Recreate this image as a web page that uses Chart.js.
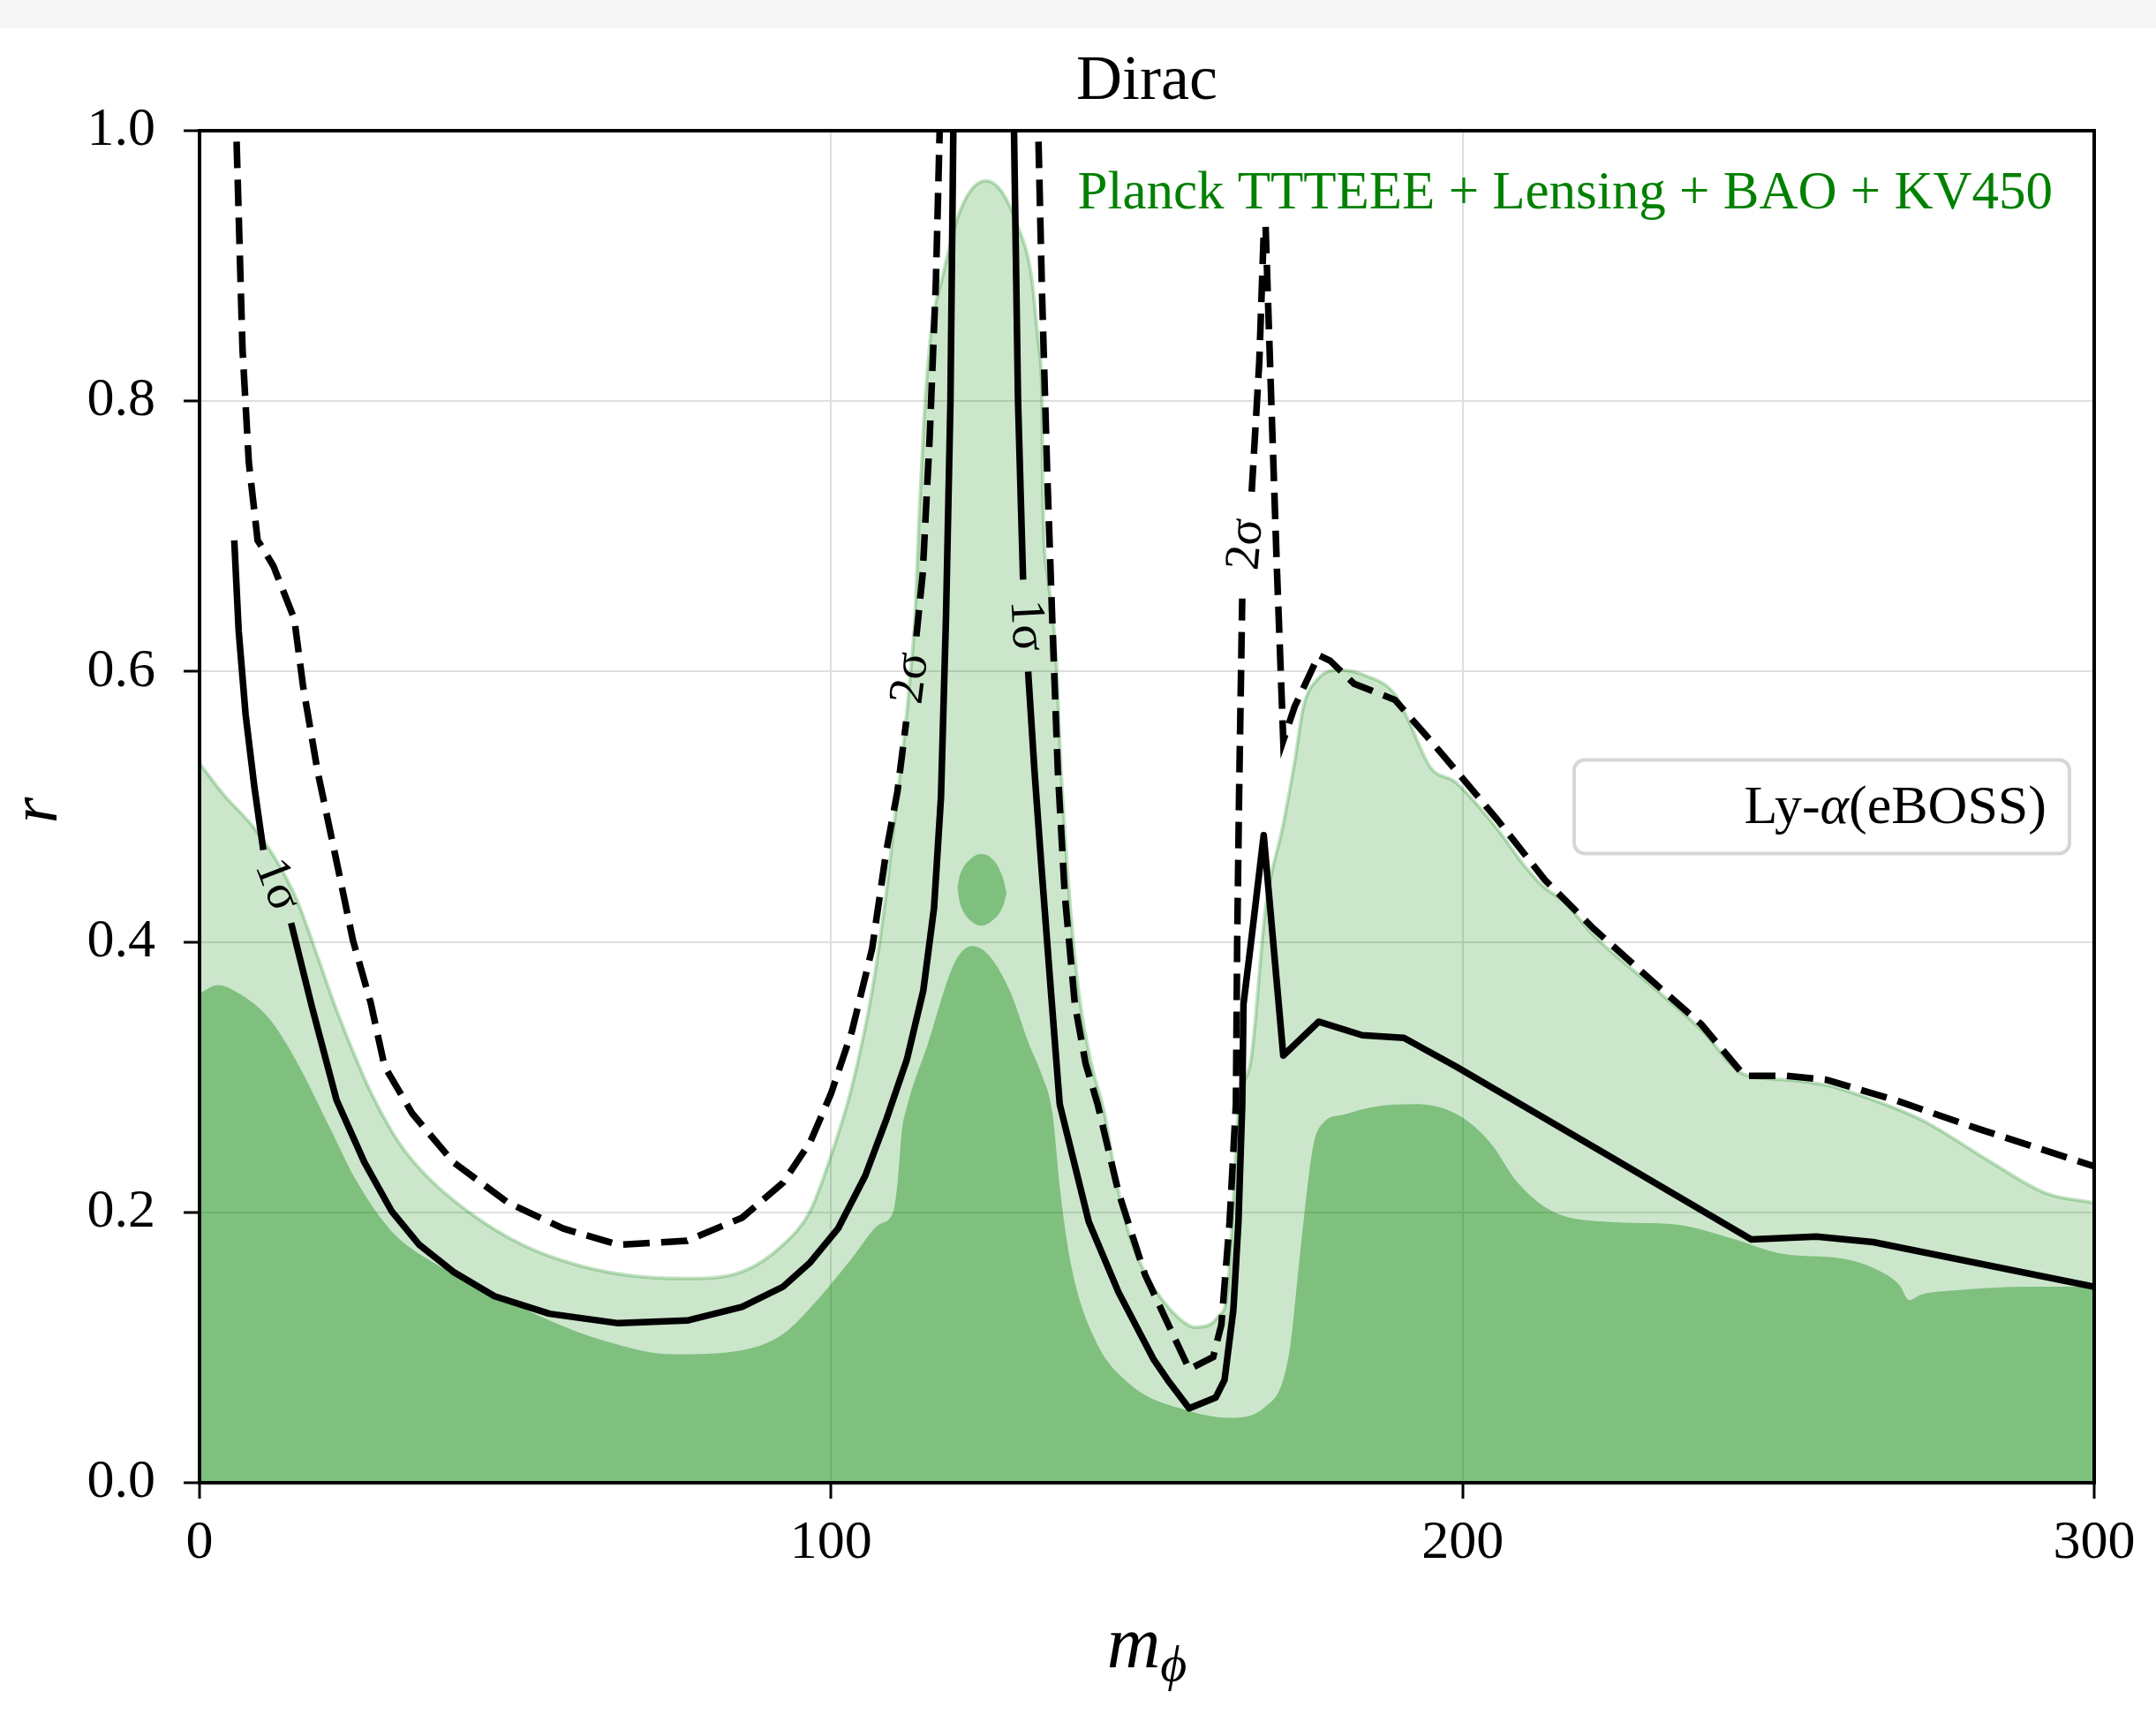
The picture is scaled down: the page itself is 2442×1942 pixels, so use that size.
<!DOCTYPE html>
<html><head><meta charset="utf-8">
<script src="https://cdn.jsdelivr.net/npm/chart.js@4.4.0/dist/chart.umd.min.js"></script>
<style>
html,body{margin:0;padding:0;background:#fff;overflow:hidden;}
#wrap{position:absolute;left:0;top:0;width:2442px;height:1942px;}
#band{position:absolute;left:0;top:0;width:2442px;height:32px;background:#f7f7f7;}
</style></head><body>
<div id="wrap"><canvas id="c" width="2442" height="1942"></canvas></div>
<div id="band"></div>
<script>
// ---- data ----
const xTicks = [0, 100, 200, 300];
const yTicks = [0.0, 0.2, 0.4, 0.6, 0.8, 1.0];

// 2-sigma filled region (light green) upper boundary
const lightX = [0,3.8,8.5,12.2,15.5,18.7,21.5,25.0,27.2,31.5,35.9,42.4,51.1,59.8,68.5,77.2,85.9,92.4,96.7,100.0,103.3,106.5,108.7,110.2,111.5,112.6,113.3,114.0,114.7,115.8,117.7,120.0,122.0,124.5,127.0,129.5,131.7,132.9,133.4,133.5,134.3,135.5,136.5,137.8,139.3,141.2,143.2,145.3,147.3,149.6,152.0,155.0,157.6,160.0,161.3,162.7,163.6,164.5,166.5,168.8,171.6,173.4,174.8,177.2,180.4,184.6,189.3,191.2,194.9,198.9,205.4,210.0,213.0,216.0,220.7,229.3,237.8,244.6,251.1,257.6,262.0,272.8,283.7,292.4,300];
const lightY = [0.532,0.509,0.485,0.460,0.430,0.389,0.352,0.311,0.288,0.252,0.227,0.201,0.176,0.161,0.153,0.151,0.156,0.176,0.201,0.242,0.293,0.364,0.435,0.496,0.547,0.600,0.641,0.720,0.785,0.850,0.893,0.935,0.955,0.963,0.955,0.930,0.893,0.840,0.800,0.737,0.670,0.620,0.520,0.430,0.360,0.310,0.275,0.220,0.182,0.156,0.138,0.122,0.115,0.117,0.123,0.138,0.200,0.275,0.313,0.425,0.487,0.533,0.574,0.595,0.601,0.597,0.583,0.566,0.529,0.518,0.484,0.455,0.440,0.430,0.405,0.370,0.335,0.302,0.298,0.294,0.288,0.268,0.237,0.214,0.207];

// 1-sigma filled region (dark green) upper boundary
const darkX = [0,2.9,6.2,10.9,15.2,20.7,25.0,30.4,35.9,44.6,55.4,64.1,75.0,85.9,92.4,97.8,103.3,107.6,109.8,110.6,111.2,112.0,115.2,119.6,122.4,125.0,128.3,131.3,133.5,135.0,136.3,138.0,141.8,147.3,156.7,163.1,168.7,172.5,174.3,176.3,178.1,180.9,185.9,192.4,198.9,204.3,208.7,214.1,222.8,233.7,242.4,251.1,259.8,266.3,269.2,270.7,272.5,277.2,290.2,300];
const darkY = [0.362,0.368,0.362,0.344,0.313,0.262,0.222,0.186,0.166,0.145,0.120,0.105,0.095,0.098,0.110,0.135,0.166,0.191,0.200,0.225,0.260,0.278,0.323,0.385,0.397,0.390,0.364,0.325,0.300,0.275,0.215,0.161,0.106,0.073,0.053,0.048,0.056,0.095,0.171,0.248,0.267,0.272,0.278,0.280,0.273,0.252,0.222,0.201,0.193,0.191,0.181,0.169,0.166,0.156,0.146,0.135,0.139,0.142,0.145,0.145];

// small 1-sigma island near the peak
const islandX = [120.0,120.6,122.0,123.8,125.6,127.0,127.8];
const islandTop = [0.440,0.452,0.461,0.465,0.461,0.450,0.436];
const islandBottom = [0.440,0.426,0.416,0.412,0.416,0.424,0.436];

// Ly-alpha (eBOSS) 1-sigma contour (null = break)
const solidX = [5.5,6.2,7.3,8.7,10.1,null,14.5,17.8,21.7,26.1,30.4,34.8,40.2,46.7,55.4,66.3,77.2,85.9,92.4,96.7,101.1,105.4,108.7,112.0,114.6,116.3,117.4,118.2,118.9,119.4,null,
  128.9,129.6,130.4,null,131.2,132.2,133.3,134.8,136.2,140.8,145.5,151.1,153.3,156.7,160.9,162.3,163.7,164.5,165.1,165.3,166.5,168.5,171.6,177.2,184.1,190.7,198.9,222.0,245.7,256.0,265.0,300];
const solidY = [0.697,0.630,0.568,0.514,0.468,null,0.414,0.352,0.283,0.237,0.201,0.176,0.156,0.138,0.125,0.118,0.120,0.130,0.145,0.163,0.188,0.227,0.268,0.313,0.364,0.425,0.507,0.641,0.800,1.02,null,
  1.02,0.800,0.668,null,0.600,0.527,0.456,0.364,0.280,0.193,0.141,0.091,0.076,0.055,0.063,0.076,0.128,0.193,0.280,0.354,0.400,0.479,0.316,0.341,0.331,0.329,0.308,0.245,0.180,0.182,0.178,0.145];

// Ly-alpha (eBOSS) 2-sigma contour (null = break)
const dashX = [5.7,6.8,7.8,9.2,10.3,11.7,15.0,16.4,18.7,21.5,24.3,27.1,29.3,33.7,40.2,48.9,57.6,66.3,77.2,85.9,92.4,96.7,100.0,103.3,106.5,108.7,110.5,111.9,null,113.5,114.5,115.6,116.6,117.3,null,
  132.7,133.4,134.2,135.0,135.9,137.0,138.6,140.3,142.2,145.5,149.7,154.3,156.7,160.5,161.8,163.1,164.1,164.3,164.6,165.1,null,166.6,167.8,168.5,168.8,169.7,170.6,171.6,173.4,177.2,179.0,182.8,189.3,194.9,198.9,205.4,213.0,220.7,229.3,237.8,244.6,251.1,257.6,268.5,281.5,300];
const dashY = [1.02,0.839,0.755,0.697,0.689,0.678,0.639,0.589,0.526,0.464,0.401,0.355,0.308,0.273,0.237,0.207,0.188,0.176,0.179,0.196,0.222,0.252,0.288,0.334,0.395,0.466,0.511,0.563,null,0.626,0.672,0.772,0.889,1.02,null,
  1.02,0.880,0.750,0.641,0.527,0.435,0.354,0.310,0.280,0.215,0.154,0.108,0.084,0.093,0.117,0.193,0.280,0.400,0.508,0.654,null,0.733,0.829,0.924,0.929,0.800,0.675,0.549,0.574,0.612,0.608,0.591,0.579,0.549,0.527,0.491,0.446,0.410,0.374,0.339,0.301,0.301,0.298,0.283,0.262,0.234];

// inline contour labels: text, x, y, rotation (deg)
const contourLabels = [
  {text: '1σ', x: 12.2, y: 0.442, rot: 69},
  {text: '1σ', x: 130.8, y: 0.634, rot: 87},
  {text: '2σ', x: 112.7, y: 0.595, rot: -83},
  {text: '2σ', x: 165.8, y: 0.694, rot: -85}
];

const titleText = 'Dirac';
const dataLabel = 'Planck TTTEEE + Lensing + BAO + KV450';
const legendParts = ['Ly-', 'α', '(eBOSS)'];

// ---- build ----
const pts = (xs, ys) => xs.map((x, i) => ({x: x === null ? NaN : x, y: ys[i]}));
const SERIF = '"Liberation Serif", "DejaVu Serif", serif';

const decor = {
  id: 'decor',
  afterDatasetsDraw(chart) {
    const {ctx, chartArea: a, scales: {x, y}} = chart;
    ctx.save();
    ctx.fillStyle = '#000';
    ctx.font = '56px ' + SERIF;
    ctx.textAlign = 'center';
    ctx.textBaseline = 'middle';
    contourLabels.forEach(l => {
      ctx.save();
      ctx.translate(x.getPixelForValue(l.x), y.getPixelForValue(l.y));
      ctx.rotate(l.rot * Math.PI / 180);
      ctx.fillText(l.text, 0, 0);
      ctx.restore();
    });
    ctx.strokeStyle = '#000';
    ctx.lineWidth = 4;
    ctx.strokeRect(a.left, a.top, a.right - a.left, a.bottom - a.top);
    ctx.restore();
  },
  afterDraw(chart) {
    const {ctx, chartArea: a} = chart;
    const cx = (a.left + a.right) / 2;
    const cy = (a.top + a.bottom) / 2;
    ctx.save();
    ctx.fillStyle = '#000';
    ctx.textBaseline = 'middle';
    // title
    ctx.textAlign = 'center';
    ctx.font = '72px ' + SERIF;
    ctx.fillText(titleText, cx, 93);
    // green data label
    ctx.textAlign = 'right';
    ctx.fillStyle = '#008000';
    ctx.font = '61px ' + SERIF;
    ctx.fillText(dataLabel, a.right - 47, a.top + 72);
    // legend box
    const bw = 561, bh = 106;
    const bx = a.right - 28 - bw, by = cy - bh / 2;
    ctx.beginPath();
    ctx.roundRect(bx, by, bw, bh, 12);
    ctx.fillStyle = 'rgba(255,255,255,0.85)';
    ctx.fill();
    ctx.strokeStyle = '#d6d6d6';
    ctx.lineWidth = 4;
    ctx.stroke();
    ctx.fillStyle = '#000';
    const fonts = ['62px ' + SERIF, 'italic 62px ' + SERIF, '62px ' + SERIF];
    let widths = legendParts.map((t, i) => { ctx.font = fonts[i]; return ctx.measureText(t).width; });
    let tx = bx + bw - 26 - widths.reduce((s, w) => s + w, 0);
    ctx.textAlign = 'left';
    legendParts.forEach((t, i) => { ctx.font = fonts[i]; ctx.fillText(t, tx, cy + 2); tx += widths[i]; });
    // x axis label  m_phi
    ctx.font = 'italic 84px ' + SERIF;
    const mw = ctx.measureText('m').width;
    ctx.font = 'italic 58px ' + SERIF;
    const pw = ctx.measureText('ϕ').width;
    let lx = cx - (mw + pw) / 2;
    ctx.font = 'italic 84px ' + SERIF;
    ctx.fillText('m', lx, 1866);
    ctx.font = 'italic 58px ' + SERIF;
    ctx.fillText('ϕ', lx + mw, 1888);
    // y axis label r
    ctx.save();
    ctx.translate(44, cy + 4);
    ctx.rotate(-Math.PI / 2);
    ctx.textAlign = 'center';
    ctx.font = 'italic 76px ' + SERIF;
    ctx.fillText('r', 0, 0);
    ctx.restore();
    ctx.restore();
  }
};

const lineBase = {pointRadius: 0, pointHoverRadius: 0, tension: 0, spanGaps: false, fill: false, clip: 0};

new Chart(document.getElementById('c'), {
  type: 'line',
  data: {
    datasets: [
      Object.assign({}, lineBase, {label: 'solid', data: pts(solidX, solidY), borderColor: '#000', borderWidth: 7.5, borderJoinStyle: 'round'}),
      Object.assign({}, lineBase, {label: 'dashed', data: pts(dashX, dashY), borderColor: '#000', borderWidth: 7.5, borderDash: [30, 13]}),
      Object.assign({}, lineBase, {label: 'islandTop', data: pts(islandX, islandTop), borderColor: 'rgba(0,0,0,0)', borderWidth: 0, tension: 0.4, fill: '+1', backgroundColor: 'rgba(0,128,0,0.38)'}),
      Object.assign({}, lineBase, {label: 'islandBottom', data: pts(islandX, islandBottom), borderColor: 'rgba(0,0,0,0)', borderWidth: 0, tension: 0.4}),
      Object.assign({}, lineBase, {label: 'dark', data: pts(darkX, darkY), borderColor: 'rgba(0,0,0,0)', borderWidth: 0, cubicInterpolationMode: 'monotone', fill: 'origin', backgroundColor: 'rgba(0,128,0,0.38)'}),
      Object.assign({}, lineBase, {label: 'light', data: pts(lightX, lightY), borderColor: 'rgba(0,128,0,0.24)', borderWidth: 4, cubicInterpolationMode: 'monotone', fill: 'origin', backgroundColor: 'rgba(0,128,0,0.2)'})
    ]
  },
  options: {
    responsive: false,
    animation: false,
    devicePixelRatio: 1,
    events: [],
    layout: {padding: {top: 148, right: 70, left: 0, bottom: 0}},
    plugins: {legend: {display: false}, tooltip: {enabled: false}, title: {display: false}},
    scales: {
      x: {
        type: 'linear', min: 0, max: 300,
        afterBuildTicks: s => { s.ticks = xTicks.map(v => ({value: v})); },
        afterFit: s => { s.height = 263; },
        ticks: {color: '#000', font: {family: SERIF, size: 62}, padding: 14, maxRotation: 0, autoSkip: false, callback: v => String(v)},
        grid: {color: '#dedede', lineWidth: 2, tickColor: '#000', tickLength: 18, tickWidth: 3},
        border: {color: '#000', width: 4}
      },
      y: {
        type: 'linear', min: 0, max: 1,
        afterBuildTicks: s => { s.ticks = yTicks.map(v => ({value: v})); },
        afterFit: s => { s.width = 226; },
        ticks: {color: '#000', font: {family: SERIF, size: 62}, padding: 32, autoSkip: false, callback: v => Number(v).toFixed(1)},
        grid: {color: '#dedede', lineWidth: 2, tickColor: '#000', tickLength: 18, tickWidth: 3},
        border: {color: '#000', width: 4}
      }
    }
  },
  plugins: [decor]
});
</script>
</body></html>
